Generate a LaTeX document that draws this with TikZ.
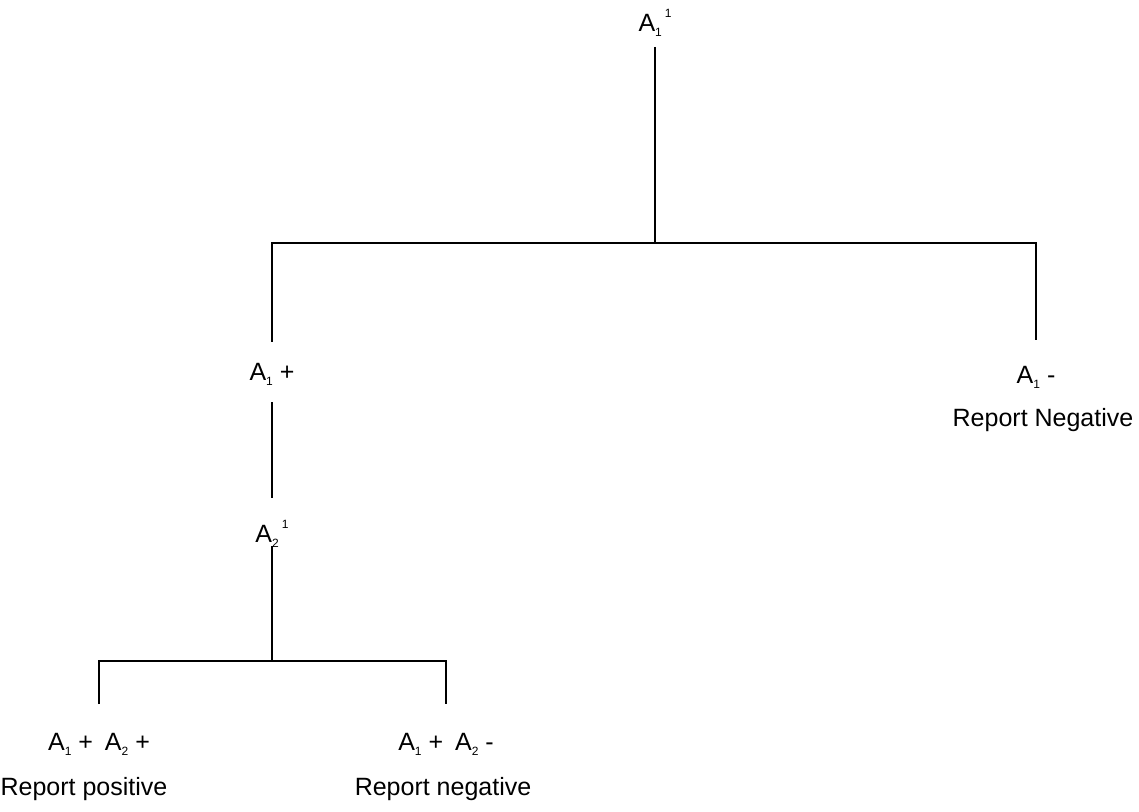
\documentclass[tikz,border=0pt]{standalone}
\usepackage{fontspec}
\setmainfont{Liberation Sans}
\usepackage{tikz}
\usetikzlibrary{positioning}

\newcommand{\subidx}[1]{\raisebox{-2.5pt}{\fontsize{6}{6}\selectfont #1}}
\newcommand{\supidx}[1]{\raisebox{7pt}{\fontsize{6}{6}\selectfont #1}}

\begin{document}
\begin{tikzpicture}[x=0.5pt,y=-0.5pt,line width=1.2pt,
	lbl/.style = {anchor=base,inner sep=0pt,text height=9pt,text depth=1pt,font=\fontsize{12.5}{15}\selectfont}
	]
	\useasboundingbox (0,0) rectangle (1139,812);
	%PRIMO TEST
	\node[lbl,outer sep=6.5pt] (a1) at (655,32) {A\subidx{1}\hspace{1.5pt}\supidx{1}};
	\coordinate (j1) at (655,243);
	\node[lbl,outer sep=10pt] (a1p) at (272,380) {A\subidx{1} +};
	\node[lbl,outer sep=12.5pt] (a1m) at (1036,383) {A\subidx{1} -};
	\node[lbl] (rn1) at (1043,426) {Report Negative};
	\draw (a1) -- (j1);
	\draw (a1p) |- (j1) -| (a1m);
	%SECONDO TEST
	\node[lbl,outer sep=1pt] (a2) at (272,542) {A\subidx{2}\hspace{1.5pt}\supidx{1}};
	\coordinate (j2) at (272,661);
	\draw[shorten >=12pt] (a1p) -- (a2);
	\draw (a2) -- (j2);
	%ESITI
	\node[lbl,outer sep=14pt] (b1) at (99,750) {A\subidx{1} +\hspace{2.5pt} A\subidx{2} +};
	\node[lbl,outer sep=14pt] (b2) at (446,750) {A\subidx{1} +\hspace{2.5pt} A\subidx{2} -};
	\node[lbl] (rp) at (84,795) {Report positive};
	\node[lbl] (rn2) at (443,795) {Report negative};
	\draw (b1) |- (j2) -| (b2);
\end{tikzpicture}
\end{document}
